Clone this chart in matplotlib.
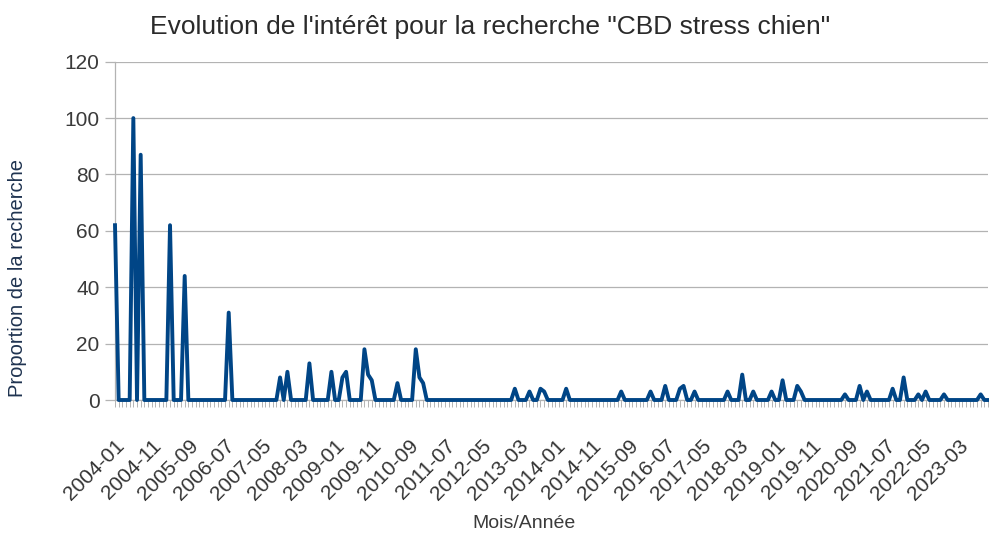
import matplotlib
matplotlib.use("Agg")
import matplotlib.pyplot as plt
import pandas as pd

plt.rcParams['font.family'] = ['Liberation Sans', 'DejaVu Sans']

title = "Evolution de l'intérêt pour la recherche \"CBD stress chien\""
x_label = "Mois/Année"
y_label = "Proportion de la recherche"

months = list(pd.period_range("2004-01", "2023-11", freq="M").strftime("%Y-%m"))

values = (
    [62, 0, 0, 0, 0, 100, 0, 87, 0, 0, 0, 0] +      # 2004
    [0, 0, 0, 62, 0, 0, 0, 44, 0, 0, 0, 0] +        # 2005
    [0, 0, 0, 0, 0, 0, 0, 31, 0, 0, 0, 0] +         # 2006
    [0, 0, 0, 0, 0, 0, 0, 0, 0, 8, 0, 10] +         # 2007
    [0, 0, 0, 0, 0, 13, 0, 0, 0, 0, 0, 10] +        # 2008
    [0, 0, 8, 10, 0, 0, 0, 0, 18, 9, 7, 0] +        # 2009
    [0, 0, 0, 0, 0, 6, 0, 0, 0, 0, 18, 8] +         # 2010
    [6, 0, 0, 0, 0, 0, 0, 0, 0, 0, 0, 0] +          # 2011
    [0, 0, 0, 0, 0, 0, 0, 0, 0, 0, 0, 0] +          # 2012
    [0, 4, 0, 0, 0, 3, 0, 0, 4, 3, 0, 0] +          # 2013
    [0, 0, 0, 4, 0, 0, 0, 0, 0, 0, 0, 0] +          # 2014
    [0, 0, 0, 0, 0, 0, 3, 0, 0, 0, 0, 0] +          # 2015
    [0, 0, 3, 0, 0, 0, 5, 0, 0, 0, 4, 5] +          # 2016
    [0, 0, 3, 0, 0, 0, 0, 0, 0, 0, 0, 3] +          # 2017
    [0, 0, 0, 9, 0, 0, 3, 0, 0, 0, 0, 3] +          # 2018
    [0, 0, 7, 0, 0, 0, 5, 3, 0, 0, 0, 0] +          # 2019
    [0, 0, 0, 0, 0, 0, 0, 2, 0, 0, 0, 5] +          # 2020
    [0, 3, 0, 0, 0, 0, 0, 0, 4, 0, 0, 8] +          # 2021
    [0, 0, 0, 2, 0, 3, 0, 0, 0, 0, 2, 0] +          # 2022
    [0, 0, 0, 0, 0, 0, 0, 0, 2, 0, 0]               # 2023
)

y_ticks = [0, 20, 40, 60, 80, 100, 120]
label_step = 10

W, H = 989, 536
fig = plt.figure(figsize=(W / 100, H / 100), dpi=100)
ax = fig.add_axes([115 / W, (H - 400) / H, (988 - 115) / W, (400 - 61.7) / H])

xs = list(range(len(values)))
ax.plot(xs, values, color="#004586", linewidth=2.8, solid_joinstyle="round", zorder=3, clip_on=False)

ax.set_xlim(0, len(values) - 1)
ax.set_ylim(0, 120)
ax.set_yticks(y_ticks)
ax.set_yticklabels([str(v) for v in y_ticks], fontsize=15, color="#3a3a3a")
ax.set_xticks(xs[::label_step])
ax.set_xticklabels(months[::label_step], rotation=45, ha="right", rotation_mode="anchor",
                   fontsize=15, color="#333333")
ax.set_xticks(xs, minor=True)

ax.grid(axis="y", color="#b3b3b3", linewidth=0.9, zorder=0)
ax.set_axisbelow(True)
for s in ["top", "right"]:
    ax.spines[s].set_visible(False)
ax.spines["left"].set_color("#b3b3b3")
ax.spines["bottom"].set_color("#b3b3b3")
ax.spines["left"].set_linewidth(0.9)
ax.spines["bottom"].set_linewidth(0.9)

ax.tick_params(axis="y", length=7, width=0.9, color="#b3b3b3", pad=4)
ax.tick_params(axis="x", which="both", length=5, width=0.7, color="#b3b3b3", pad=21)

fig.text(490 / W, 1 - 27 / H, title, ha="center", va="center", fontsize=19, color="#2a2a2a")
fig.text(524 / W, 1 - 523 / H, x_label, ha="center", va="center", fontsize=14, color="#3a3a3a")
fig.text(18 / W, 1 - 278 / H, y_label, ha="center", va="center", rotation=90, fontsize=14.5, color="#1f3350")

fig.savefig("out.png", dpi=100)
